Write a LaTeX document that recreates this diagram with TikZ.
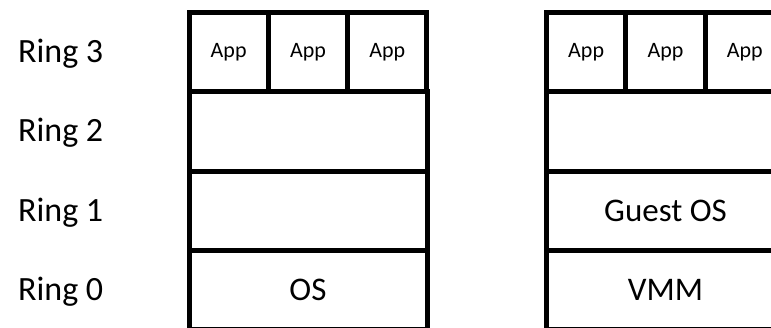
\documentclass[tikz,border=0pt]{standalone}
\usepackage{fontspec}
\setmainfont{Carlito}
\usetikzlibrary{positioning}
\tikzset{
  layer/.style={draw, line width=5pt, inner sep=0pt, outer sep=0pt,
    minimum width=238pt, minimum height=79.25pt,
    font=\fontsize{33}{36}\selectfont},
  app/.style={layer, minimum width=79.33pt, font=\fontsize{22}{24}\selectfont},
  ring/.style={anchor=base west, inner sep=0pt, font=\fontsize{34}{38}\selectfont}
}

\begin{document}
\begin{tikzpicture}[x=1pt,y=1pt]
    \useasboundingbox (0,0) rectangle (771,-328);
    % ring labels
    \node[ring] (ring3) at (18,-62.7) {Ring 3};
    \node[ring] (ring2) at (18,-142) {Ring 2};
    \node[ring] (ring1) at (18,-221.5) {Ring 1};
    \node[ring] (ring0) at (18,-300.5) {Ring 0};
    % native stack
    \node[layer] (osL) at (308,-290) {OS};
    \node[layer, above=0pt of osL] (r1L) {};
    \node[layer, above=0pt of r1L] (r2L) {};
    \node[app, above right=0pt and 0pt of r2L.north west] (appL1) {App};
    \node[app, right=0pt of appL1] (appL2) {App};
    \node[app, right=0pt of appL2] (appL3) {App};
    % virtualized stack
    \begin{scope}[xshift=357.5pt]
    \node[layer] (vmm) at (308,-290) {VMM};
    \node[layer, above=0pt of vmm] (guest) {Guest OS};
    \node[layer, above=0pt of guest] (r2R) {};
    \node[app, above right=0pt and 0pt of r2R.north west] (appR1) {App};
    \node[app, right=0pt of appR1] (appR2) {App};
    \node[app, right=0pt of appR2] (appR3) {App};
    \end{scope}
\end{tikzpicture}
\end{document}
